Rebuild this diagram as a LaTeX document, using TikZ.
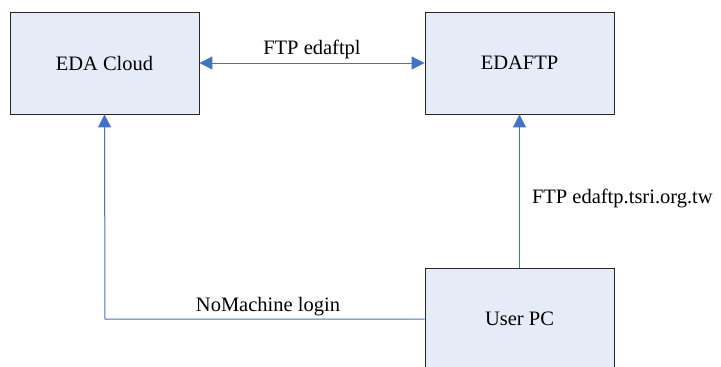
\documentclass[tikz,border=0pt]{standalone}
\usepackage{fontspec}
\setmainfont{Liberation Serif}
\usetikzlibrary{arrows.meta}

\definecolor{boxfill}{RGB}{230,236,247}
\definecolor{linkblue}{RGB}{68,114,196}

\tikzset{
    sysbox/.style={draw=black!85, line width=0.9pt, fill=boxfill,
        minimum width=189pt, minimum height=102pt, inner sep=0pt,
        font=\fontsize{20.5}{24}\selectfont},
    link/.style={draw=linkblue, line width=1pt},
    tip/.tip={Triangle[length=13pt,width=13pt]},
    lbl/.style={font=\fontsize{20.5}{24}\selectfont, inner sep=2pt}
}

\begin{document}
\begin{tikzpicture}[x=1pt,y=-1pt]
    \clip (0,0) rectangle (721,367);
    \fill[white] (0,0) rectangle (721,367);

    % boxes
    \node[sysbox] (cloud) at (104.5,63) {EDA Cloud};
    \node[sysbox] (ftp) at (519.5,63) {EDAFTP};
    \node[sysbox] (pc) at (519.5,319) {User PC};

    % connections
    \draw[link,{tip}-{tip}] (cloud) -- node[lbl, above=2pt] {FTP edaftpl} (ftp);
    \draw[link,-{tip}] (pc.west) -- node[lbl, above=1pt, pos=0.49] {NoMachine login} (105,319) -- (cloud.south);
    \draw[link,-{tip}] (pc.north) -- node[lbl, right=10pt, pos=0.45] {FTP edaftp.tsri.org.tw} (ftp.south);
\end{tikzpicture}
\end{document}
